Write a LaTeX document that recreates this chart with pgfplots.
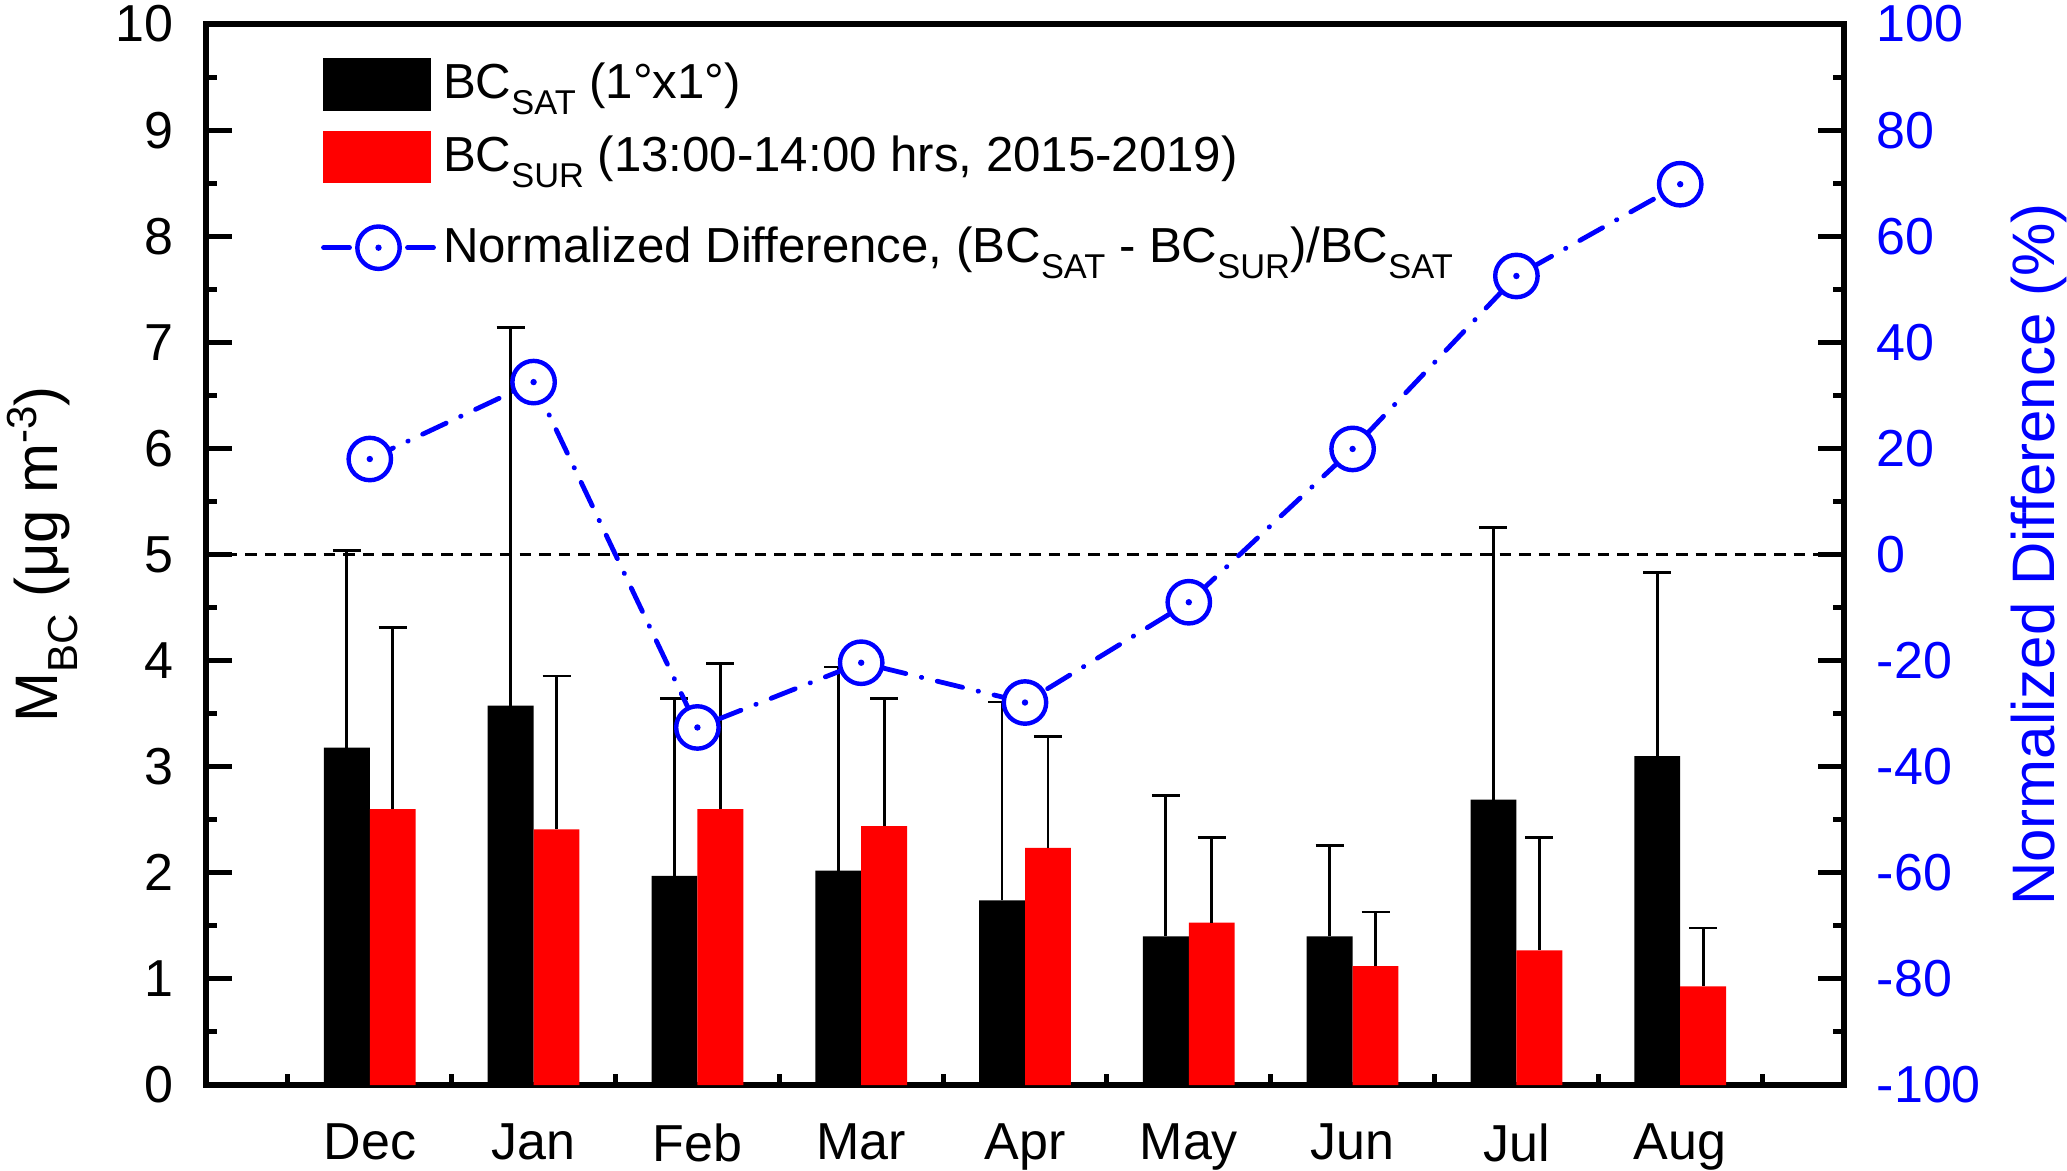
\documentclass[border=0pt]{standalone}
\usepackage{fontspec}
\setmainfont{Liberation Sans}
\usepackage{pgfplots}
\pgfplotsset{compat=1.18}

\pgfdeclareplotmark{odot}{%
  \pgfpathcircle{\pgfpointorigin}{\pgfplotmarksize}%
  \pgfsetfillcolor{white}\pgfusepathqfillstroke
  \pgfpathcircle{\pgfpointorigin}{0.8pt}%
  \pgfsetfillcolor{blue}\pgfusepathqfill}

\newcommand\legsub[1]{\raisebox{-3.9pt}{\fontsize{8.6}{8.6}\selectfont #1}}
\newcommand\labsub[1]{\raisebox{-5pt}{\fontsize{10.5}{10.5}\selectfont #1}}
\newcommand\labsup[1]{\raisebox{5.25pt}{\fontsize{10.5}{10.5}\selectfont #1}}

\pgfplotsset{
  lineleg/.style={legend image code/.code={%
    \path[draw=none,fill=none] (0pt,11.1pt) rectangle (0.1pt,0pt);
    \draw[mark repeat=2,mark phase=2,##1,dash pattern=on 6.5pt off 14.5pt]
      plot coordinates {(0pt,0pt) (13.75pt,0pt) (27.5pt,0pt)};}},
  common/.style={
    width=409.5pt, height=265.25pt, scale only axis,
    xmin=-1, xmax=9,
    axis line style={line width=1.5pt},
    tick align=inside,
    major tick length=6.5pt, minor tick length=2.75pt,
    tick style={line width=1.25pt, black},
    tick label style={font=\fontsize{13}{13}\selectfont},
  }
}

\begin{document}
\begin{tikzpicture}
\begin{axis}[common,
  ymin=0, ymax=10,
  xtick={0,...,8},
  xticklabels={Dec,Jan,Feb,Mar,Apr,May,Jun,Jul,Aug},
  major x tick style={draw=none},
  minor xtick={-0.5,0.5,...,8.5},
  ytick={0,...,10},
  yticklabels={0,1,2,3,4,5,6,7,8,9,10},
  minor ytick={0.5,1.5,...,9.5},
  xtick pos=bottom, ytick pos=left,
  yticklabel style={inner sep=0pt, xshift=-8pt, anchor=east},
  xticklabel style={inner sep=0pt, yshift=-9.5pt, anchor=north},
  ylabel={M\labsub{BC} (μg m\labsup{-3})},
  ylabel style={at={(axis description cs:-0.0904,0.5)}, anchor=base, inner sep=0pt, font=\fontsize{15}{15}\selectfont},
]
\addplot[black, dash pattern=on 2.9pt off 2pt, line width=0.7pt, forget plot] coordinates {(-1,5) (9,5)};
% BC_SAT (plotted 0.14 left of each month)
\addplot[ybar, bar width=0.28, bar shift=0pt, fill=black, draw=none,
  error bars/.cd, y dir=plus, y explicit,
  error bar style={line width=0.7pt, black},
  error mark options={line width=0.7pt, mark size=3.5pt, black, rotate=90}]
coordinates {
 (-0.14,3.18) +- (0,1.86)
 (0.86,3.575) +- (0,3.565)
 (1.86,1.97) +- (0,1.67)
 (2.86,2.02) +- (0,1.92)
 (3.86,1.74) +- (0,1.87)
 (4.86,1.40) +- (0,1.33)
 (5.86,1.40) +- (0,0.86)
 (6.86,2.69) +- (0,2.565)
 (7.86,3.10) +- (0,1.73)
};
% BC_SUR (plotted 0.14 right of each month)
\addplot[ybar, bar width=0.28, bar shift=0pt, fill=red, draw=none,
  error bars/.cd, y dir=plus, y explicit,
  error bar style={line width=0.7pt, black},
  error mark options={line width=0.7pt, mark size=3.5pt, black, rotate=90}]
coordinates {
 (0.14,2.60) +- (0,1.71)
 (1.14,2.41) +- (0,1.445)
 (2.14,2.60) +- (0,1.37)
 (3.14,2.44) +- (0,1.205)
 (4.14,2.234) +- (0,1.05)
 (5.14,1.53) +- (0,0.80)
 (6.14,1.12) +- (0,0.51)
 (7.14,1.27) +- (0,1.06)
 (8.14,0.93) +- (0,0.55)
};
\end{axis}
\begin{axis}[common,
  ymin=-100, ymax=100,
  axis x line=none, axis y line*=right,
  ytick={-100,-80,...,100},
  yticklabels={-100,-80,-60,-40,-20,0,20,40,60,80,100},
  minor ytick={-90,-70,...,90},
  yticklabel style={blue, inner sep=0pt, xshift=8pt, anchor=west},
  ylabel={Normalized Difference (\%)},
  ylabel style={at={(axis description cs:1.1288,0.5)}, anchor=base, inner sep=0pt, blue, font=\fontsize{15}{15}\selectfont},
  legend style={at={(axis description cs:0.0698,0.969)}, anchor=north west,
    draw=none, fill=none, inner sep=0pt, row sep=5pt, column sep=1.8pt,
    nodes={inner sep=0pt}, font=\fontsize{12.3}{12.3}\selectfont},
  legend cell align=left,
]
\addlegendimage{legend image code/.code={\fill[black] (0pt,-6.4pt) rectangle (26.75pt,6.4pt);}}
\addlegendentry{BC\legsub{SAT} (1°x1°)}
\addlegendimage{legend image code/.code={\fill[red] (0pt,-6.4pt) rectangle (26.75pt,6.4pt);}}
\addlegendentry{BC\legsub{SUR} (13:00-14:00 hrs, 2015-2019)}
\addplot[blue, line width=1.2pt, line cap=round,
  dash pattern=on 6.5pt off 4pt on 0.1pt off 4pt,
  mark=odot, mark size=5.3pt, mark options={solid, line width=1.1pt}, lineleg]
coordinates {
 (0,18.0) (1,32.5) (2,-32.6) (3,-20.4) (4,-27.9)
 (5,-9.0) (6,19.9) (7,52.5) (8,69.8)
};
\addlegendentry{Normalized Difference, (BC\legsub{SAT} - BC\legsub{SUR})/BC\legsub{SAT}}
\end{axis}
\pgfresetboundingbox
\path[use as bounding box] (-51.5pt,-21.25pt) rectangle (465.25pt,271.25pt);
\end{tikzpicture}
\end{document}
